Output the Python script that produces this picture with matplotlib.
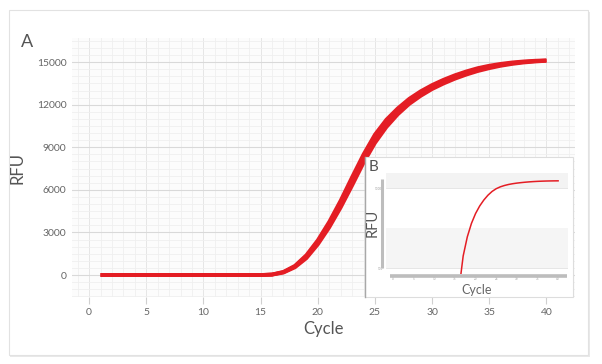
import matplotlib
matplotlib.use('Agg')
import matplotlib.pyplot as plt
from matplotlib.patches import Rectangle
from matplotlib.lines import Line2D

plt.rcParams['font.family'] = ['Lato', 'DejaVu Sans']

# ---------------- data ----------------
cycles = list(range(1, 41))
rfu_main = [0, 0, 0, 0, 0, 0, 0, 0, 0, 0, 0, 0, 0, 0, 0,
            30, 200, 600, 1300, 2300, 3550, 5000, 6600, 8200, 9600,
            10700, 11550, 12250, 12800, 13250, 13620, 13950, 14230, 14470, 14660,
            14810, 14930, 15010, 15070, 15110]
rfu_rep_hi = [0, 0, 0, 0, 0, 0, 0, 0, 0, 0, 0, 0, 0, 0, 0,
              40, 225, 650, 1400, 2450, 3750, 5250, 6900, 8500, 9900,
              10950, 11750, 12420, 12950, 13390, 13760, 14080, 14350, 14580, 14750,
              14880, 14980, 15050, 15100, 15130]
rfu_rep_lo = [0, 0, 0, 0, 0, 0, 0, 0, 0, 0, 0, 0, 0, 0, 0,
              20, 170, 540, 1180, 2150, 3350, 4750, 6300, 7900, 9300,
              10420, 11320, 12050, 12620, 13100, 13490, 13830, 14120, 14370, 14570,
              14740, 14870, 14970, 15040, 15090]
x_ticks = [0, 5, 10, 15, 20, 25, 30, 35, 40]
y_ticks = [0, 3000, 6000, 9000, 12000, 15000]

RED = '#e41d24'
W, H = 602, 364
def fx(px): return px / W
def fy(py): return 1 - py / H

fig = plt.figure(figsize=(W / 100, H / 100), dpi=100)
fig.patch.set_facecolor('white')

# card with shadow
fig.add_artist(Rectangle((fx(10), fy(357)), (590 - 10) / W, (357 - 12) / H,
                         transform=fig.transFigure, facecolor='#e9e9e9',
                         edgecolor='none', zorder=-3))
fig.add_artist(Rectangle((fx(9), fy(355)), (588 - 9) / W, (355 - 10) / H,
                         transform=fig.transFigure, facecolor='white',
                         edgecolor='#e2e2e2', lw=0.8, zorder=-2))

# ---------------- main axes ----------------
ax = fig.add_axes([fx(72), fy(297), (575 - 72) / W, (297 - 38) / H])
ax.set_facecolor('#fcfcfc')
for s in ax.spines.values():
    s.set_visible(False)
ax.set_xlim(-1.5, 42.5)
ax.set_ylim(-1550, 16700)
ax.set_xticks(x_ticks)
ax.set_yticks(y_ticks)
ax.set_xticks(range(-1, 43), minor=True)
ax.set_yticks(range(-1500, 16501, 500), minor=True)
ax.grid(which='major', axis='y', color='#d9d9d9', lw=0.8)
ax.grid(which='major', axis='x', color='#e6e6e6', lw=0.7)
ax.grid(which='minor', color='#efefef', lw=0.6)
ax.set_axisbelow(True)
ax.tick_params(axis='x', which='major', length=5, color='#d0d0d0', pad=3,
               labelsize=7.5, labelcolor='#666666')
ax.tick_params(axis='y', which='major', length=0, pad=4,
               labelsize=7.5, labelcolor='#666666')
ax.tick_params(which='minor', length=0)
ax.set_xlabel('Cycle', fontsize=12, color='#555555', labelpad=3)
ax.set_ylabel('RFU', fontsize=12, color='#555555', labelpad=8)

for series in (rfu_rep_lo, rfu_rep_hi, rfu_main):
    ax.plot(cycles, series, color=RED, lw=2.7, solid_capstyle='butt')

fig.text(fx(27), fy(42), 'A', fontsize=13, color='#555555', ha='center', va='center')

# ---------------- inset B ----------------
fig.add_artist(Rectangle((fx(365), fy(297)), (573 - 365) / W, (297 - 157) / H,
                         transform=fig.transFigure, facecolor='white',
                         edgecolor='#dddddd', lw=0.8, zorder=3))
fig.add_artist(Line2D([fx(365), fx(365)], [fy(157), fy(297)],
                      transform=fig.transFigure, color='#a8a8a8', lw=1.0, zorder=3.5))
fig.text(fx(373), fy(167), 'B', fontsize=11, color='#555555',
         ha='center', va='center', zorder=5)

ins = fig.add_axes([fx(386), fy(274), (568 - 386) / W, (274 - 173) / H], zorder=4)
ins.set_facecolor('white')
for s in ins.spines.values():
    s.set_visible(False)
ins.set_yscale('log')
ins.axhspan(1e4, 10 ** 4.375, color='#f3f3f3', lw=0, zorder=0)
ins.axhspan(1e2, 1e3, color='#f5f5f5', lw=0, zorder=0)
ins.set_yticks([1e2, 1e4])
ins.set_yticklabels(['100', '10000'])
ins.set_yticks([], minor=True)
ins.set_xticks(x_ticks)
ins.grid(which='major', axis='y', color='#e2e2e2', lw=0.6)
ins.tick_params(axis='both', length=0, labelsize=2.2, labelcolor='#999999', pad=2)
ins.plot(cycles[15:], rfu_main[15:], color=RED, lw=1.1)
# thick grey axis lines of the inset
ins.plot([-0.02, -0.02], [0.06, 0.94], transform=ins.transAxes, color='#bdbdbd',
         lw=2.2, clip_on=False, solid_capstyle='butt')
ins.plot([0.02, 0.995], [-0.02, -0.02], transform=ins.transAxes, color='#bdbdbd',
         lw=2.6, clip_on=False, solid_capstyle='butt')
ins.set_xlim(-1.7, 42.4)
ins.set_ylim(10 ** 1.85, 10 ** 4.375)
ins.set_xlabel('Cycle', fontsize=9, color='#666666', labelpad=2.5)
fig.text(fx(373), fy(223), 'RFU', fontsize=10.5, color='#555555', rotation=90,
         ha='center', va='center', zorder=5)

fig.savefig('out.png', dpi=100)
